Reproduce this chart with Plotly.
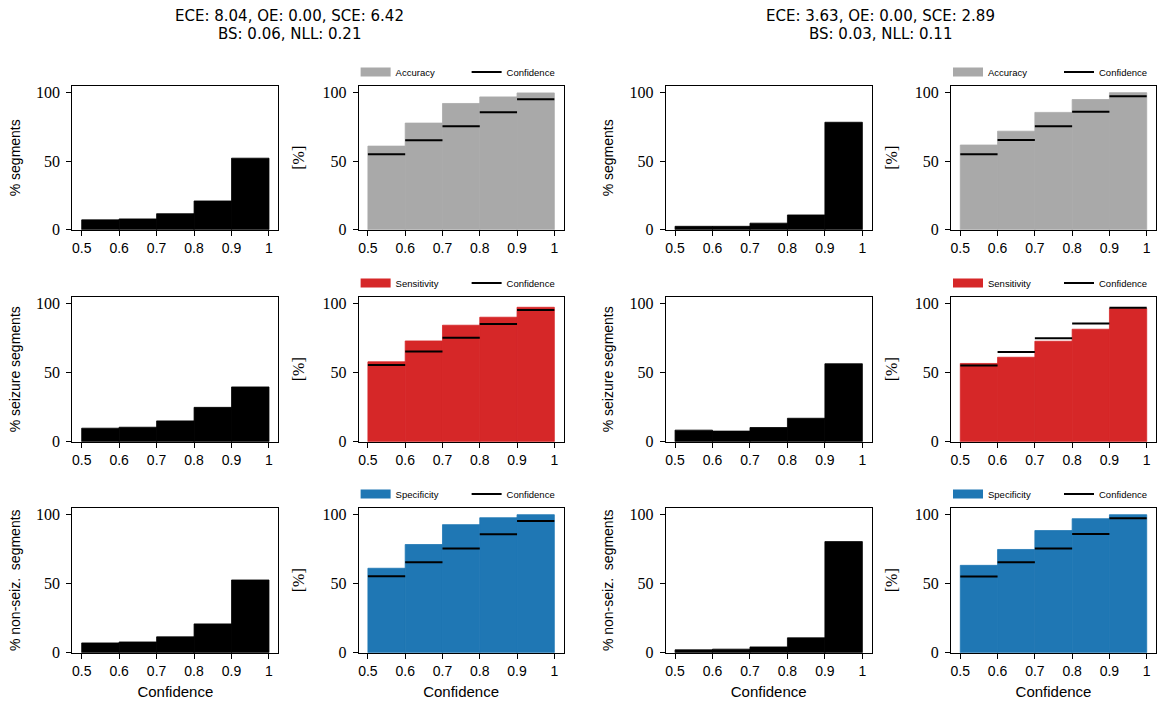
import plotly.graph_objects as go

# ---------------- data ----------------
bin_edges = [0.5, 0.6, 0.7, 0.8, 0.9, 1.0]
x_tick_labels = ["0.5", "0.6", "0.7", "0.8", "0.9", "1"]
y_ticks = [0, 50, 100]

titles_a = ["ECE: 8.04, OE: 0.00, SCE: 6.42", "BS: 0.06, NLL: 0.21"]
titles_b = ["ECE: 3.63, OE: 0.00, SCE: 2.89", "BS: 0.03, NLL: 0.11"]

row_count_labels = ["% segments", "% seizure segments", "% non-seiz.  segments"]
row_metric_names = ["Accuracy", "Sensitivity", "Specificity"]
row_metric_colors = ["#a9a9a9", "#d62728", "#1f77b4"]

# model A (left block)
a_seg_all = [7.2, 7.9, 11.7, 21.0, 52.2]
a_acc = [61.0, 77.8, 92.1, 96.9, 99.8]
a_conf_all = [55.0, 65.3, 75.4, 85.7, 95.2]
a_seg_seiz = [9.8, 10.5, 15.1, 24.9, 39.7]
a_sens = [57.9, 73.0, 84.4, 90.2, 97.4]
a_conf_seiz = [55.5, 65.3, 75.4, 85.2, 95.5]
a_seg_non = [7.1, 7.8, 11.5, 20.9, 52.7]
a_spec = [61.2, 78.4, 92.8, 97.8, 100.0]
a_conf_non = [55.4, 65.5, 75.5, 85.9, 95.4]

# model B (right block)
b_seg_all = [2.5, 2.5, 4.8, 10.8, 78.4]
b_acc = [61.8, 71.9, 85.6, 95.0, 100.0]
b_conf_all = [55.0, 65.4, 75.5, 86.1, 97.4]
b_seg_seiz = [8.4, 7.7, 10.3, 17.0, 56.5]
b_sens = [56.7, 61.2, 72.8, 81.5, 96.6]
b_conf_seiz = [55.3, 65.0, 75.0, 85.6, 97.0]
b_seg_non = [2.1, 2.6, 4.2, 10.8, 80.5]
b_spec = [63.3, 74.8, 88.5, 97.1, 100.0]
b_conf_non = [55.2, 65.5, 75.5, 86.1, 97.4]

blocks = [
    dict(seg=[a_seg_all, a_seg_seiz, a_seg_non],
         met=[a_acc, a_sens, a_spec],
         conf=[a_conf_all, a_conf_seiz, a_conf_non]),
    dict(seg=[b_seg_all, b_seg_seiz, b_seg_non],
         met=[b_acc, b_sens, b_spec],
         conf=[b_conf_all, b_conf_seiz, b_conf_non]),
]

# ---------------- layout geometry (pixels) ----------------
W, H = 1170, 713
col_px = [(73, 281), (362, 569), (672, 880), (960, 1167)]
row_px = [(86, 232), (300, 447), (514, 661)]
title_cx = [292, 889]

def px_x(v):
    return v / W

def px_y(v):
    return 1 - v / H

centers = [(bin_edges[i] + bin_edges[i + 1]) / 2 for i in range(len(bin_edges) - 1)]
widths = [bin_edges[i + 1] - bin_edges[i] for i in range(len(bin_edges) - 1)]

def step_xy(conf):
    xs, ys = [], []
    for i, c in enumerate(conf):
        xs += [bin_edges[i], bin_edges[i + 1], None]
        ys += [c, c, None]
    return xs, ys

SANS = "Liberation Sans"
SERIF = "Liberation Serif"

fig = go.Figure()
layout = dict(
    width=W, height=H,
    margin=dict(l=0, r=0, t=0, b=0),
    paper_bgcolor="white", plot_bgcolor="white",
    showlegend=True,
    font=dict(family=SANS, color="black"),
    annotations=[],
)

legend_idx = 0
for r in range(3):
    for b in range(2):
        blk = blocks[b]
        for k in range(2):
            c = 2 * b + k
            p = r * 4 + c
            xa = "x" if p == 0 else f"x{p + 1}"
            ya = "y" if p == 0 else f"y{p + 1}"
            xkey = "xaxis" if p == 0 else f"xaxis{p + 1}"
            ykey = "yaxis" if p == 0 else f"yaxis{p + 1}"
            x0, x1 = col_px[c]
            yt, yb = row_px[r]
            layout[xkey] = dict(
                domain=[px_x(x0), px_x(x1)], anchor=ya,
                range=[0.475, 1.025], tickvals=bin_edges, ticktext=x_tick_labels,
                ticks="outside", ticklen=5, tickwidth=1, tickcolor="black",
                showline=True, linecolor="black", linewidth=1, mirror=True,
                showgrid=False, zeroline=False, fixedrange=True,
                tickfont=dict(family=SANS, size=14, color="black"),
                title=dict(text="Confidence" if r == 2 else "",
                           font=dict(family=SANS, size=15, color="black"), standoff=8),
            )
            if k == 0:
                ytitle = dict(text=row_count_labels[r],
                              font=dict(family=SANS, size=14, color="black"), standoff=12)
            else:
                ytitle = dict(text="[%]", font=dict(family=SERIF, size=16, color="black"),
                              standoff=13)
            layout[ykey] = dict(
                domain=[px_y(yb), px_y(yt)], anchor=xa,
                range=[0, 105], tickvals=y_ticks,
                ticks="outside", ticklen=5, tickwidth=1, tickcolor="black",
                ticklabelstandoff=3,
                showline=True, linecolor="black", linewidth=1, mirror=True,
                showgrid=False, zeroline=False, fixedrange=True,
                tickfont=dict(family=SERIF, size=16, color="black"),
                title=ytitle,
            )
            if k == 0:
                fig.add_trace(go.Bar(
                    x=centers, y=blk["seg"][r], width=widths,
                    marker=dict(color="black", line=dict(width=0.8, color="black")),
                    xaxis=xa, yaxis=ya, showlegend=False,
                ))
            else:
                legend_idx += 1
                lname = "legend" if legend_idx == 1 else f"legend{legend_idx}"
                col = row_metric_colors[r]
                fig.add_trace(go.Bar(
                    x=centers, y=blk["met"][r], width=widths,
                    marker=dict(color=col, line=dict(width=0.8, color=col)),
                    xaxis=xa, yaxis=ya, showlegend=False, name=row_metric_names[r],
                ))
                # legend handle (patch-like thick line) for the metric
                fig.add_trace(go.Scatter(
                    x=[None], y=[None], mode="lines",
                    line=dict(color=col, width=9),
                    name=row_metric_names[r], xaxis=xa, yaxis=ya,
                    legend=lname, showlegend=True, hoverinfo="skip",
                ))
                sx, sy = step_xy(blk["conf"][r])
                fig.add_trace(go.Scatter(
                    x=sx, y=sy, mode="lines",
                    line=dict(color="black", width=2),
                    name="Confidence", xaxis=xa, yaxis=ya,
                    legend=lname, showlegend=True,
                ))
                layout[lname] = dict(
                    orientation="h", x=px_x(x0 - 3), xanchor="left",
                    y=px_y(yt - 14), yanchor="middle",
                    bgcolor="rgba(0,0,0,0)", borderwidth=0,
                    font=dict(family=SANS, size=9.5, color="black"),
                    entrywidth=66, itemwidth=30, traceorder="normal",
                )

for cx, tl in zip(title_cx, [titles_a, titles_b]):
    for line, ypx in zip(tl, [15, 33]):
        layout["annotations"].append(dict(
            text=line, x=px_x(cx), y=px_y(ypx), xref="paper", yref="paper",
            xanchor="center", yanchor="middle", showarrow=False,
            font=dict(family="DejaVu Sans", size=15, color="black"),
        ))

fig.update_layout(**layout)
fig.write_html("out.html")
